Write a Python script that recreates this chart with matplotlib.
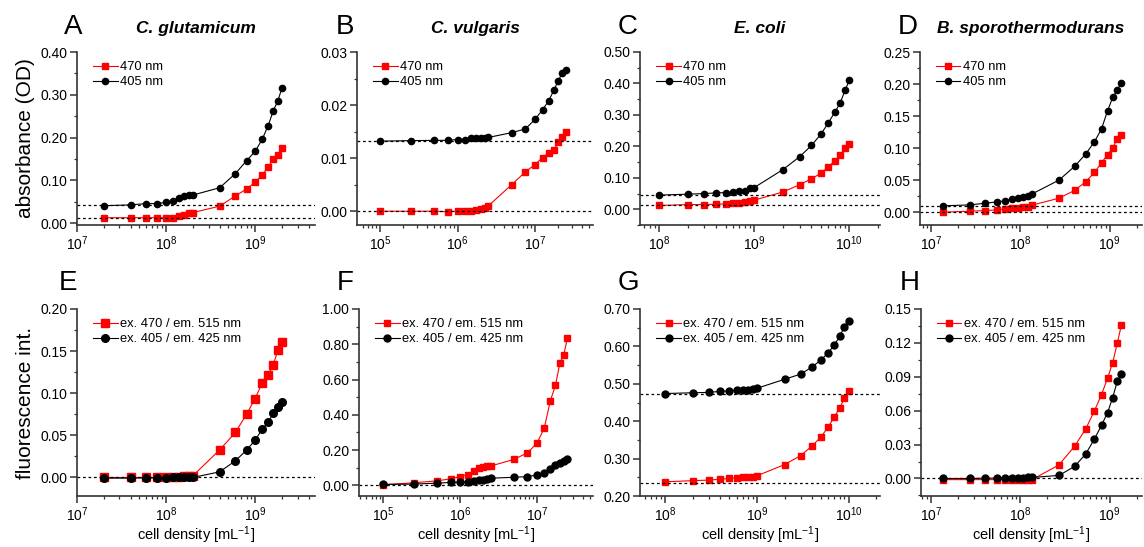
import matplotlib
matplotlib.use('Agg')
import matplotlib.pyplot as plt
from matplotlib.ticker import LogLocator, MultipleLocator, FormatStrFormatter, NullFormatter

plt.rcParams['font.family'] = ['Liberation Sans', 'DejaVu Sans']
plt.rcParams['mathtext.fontset'] = 'custom'
plt.rcParams['mathtext.rm'] = 'Liberation Sans'
plt.rcParams['mathtext.it'] = 'Liberation Sans:italic'
plt.rcParams['mathtext.bf'] = 'Liberation Sans:bold'

# cell densities (mL^-1)
x_glut = [2e7, 4e7, 6e7, 8e7, 1e8, 1.2e8, 1.4e8, 1.6e8, 1.8e8, 2e8,
          4e8, 6e8, 8e8, 1e9, 1.2e9, 1.4e9, 1.6e9, 1.8e9, 2e9]
x_vulg = [1e5, 2.5e5, 5e5, 7.5e5, 1e6, 1.25e6, 1.5e6, 1.75e6, 2e6, 2.25e6, 2.5e6,
          5e6, 7.5e6, 1e7, 1.25e7, 1.5e7, 1.75e7, 2e7, 2.25e7, 2.5e7]
x_coli = [1e8, 2e8, 3e8, 4e8, 5e8, 6e8, 7e8, 8e8, 9e8, 1e9,
          2e9, 3e9, 4e9, 5e9, 6e9, 7e9, 8e9, 9e9, 1e10]
x_spor = [1.35e7, 2.7e7, 4.05e7, 5.4e7, 6.75e7, 8.1e7, 9.45e7, 1.08e8, 1.215e8, 1.35e8,
          2.7e8, 4.05e8, 5.4e8, 6.75e8, 8.1e8, 9.45e8, 1.08e9, 1.215e9, 1.35e9]

# absorbance (OD)
abs_glut_470 = [0.013, 0.013, 0.013, 0.013, 0.013, 0.013, 0.016, 0.019, 0.023, 0.025,
                0.040, 0.064, 0.080, 0.096, 0.113, 0.132, 0.149, 0.160, 0.176]
abs_glut_405 = [0.041, 0.043, 0.046, 0.046, 0.049, 0.052, 0.059, 0.063, 0.066, 0.066,
                0.083, 0.116, 0.146, 0.168, 0.196, 0.228, 0.263, 0.286, 0.316]
abs_vulg_470 = [0.0, 0.0, 0.0, -0.0001, 0.0, 0.0, 0.0001, 0.0003, 0.0004, 0.0006, 0.001,
                0.005, 0.0074, 0.0088, 0.0101, 0.011, 0.0115, 0.013, 0.014, 0.015]
abs_vulg_405 = [0.0132, 0.0133, 0.01335, 0.01335, 0.0135, 0.0135, 0.0137, 0.0137, 0.0137, 0.0137, 0.0139,
                0.0148, 0.0155, 0.0173, 0.0191, 0.0208, 0.0228, 0.0246, 0.0261, 0.0267]
abs_coli_470 = [0.012, 0.015, 0.015, 0.016, 0.017, 0.020, 0.020, 0.022, 0.026, 0.029,
                0.055, 0.078, 0.097, 0.114, 0.134, 0.154, 0.172, 0.194, 0.209]
abs_coli_405 = [0.045, 0.048, 0.050, 0.052, 0.053, 0.055, 0.057, 0.059, 0.067, 0.069,
                0.126, 0.167, 0.203, 0.238, 0.274, 0.308, 0.337, 0.378, 0.410]
abs_spor_470 = [0.0, 0.0015, 0.0026, 0.0036, 0.0047, 0.0062, 0.0067, 0.0078, 0.0088, 0.011,
                0.0218, 0.034, 0.0477, 0.062, 0.077, 0.090, 0.100, 0.115, 0.121]
abs_spor_405 = [0.0099, 0.0114, 0.014, 0.016, 0.0176, 0.0207, 0.0223, 0.0244, 0.026, 0.0285,
                0.050, 0.0716, 0.091, 0.110, 0.130, 0.158, 0.179, 0.191, 0.202]

# fluorescence intensity
fl_glut_470 = [0.0, 0.0, 0.0, 0.0, 0.0, 0.0005, 0.0008, 0.0012, 0.0016, 0.002,
               0.0328, 0.0534, 0.075, 0.0937, 0.112, 0.122, 0.134, 0.151, 0.161]
fl_glut_405 = [-0.0008, -0.0008, -0.0005, -0.0005, -0.0005, 0.0, 0.0, 0.0, 0.0, 0.0,
               0.0067, 0.0198, 0.0324, 0.0443, 0.0573, 0.0656, 0.0763, 0.0834, 0.0901]
fl_vulg_470 = [0.004, 0.015, 0.026, 0.037, 0.05, 0.061, 0.08, 0.097, 0.104, 0.11, 0.11,
               0.147, 0.184, 0.238, 0.325, 0.48, 0.567, 0.695, 0.742, 0.835]
fl_vulg_405 = [0.0056, 0.0074, 0.013, 0.0167, 0.019, 0.022, 0.026, 0.03, 0.033, 0.037, 0.041,
               0.046, 0.05, 0.059, 0.072, 0.095, 0.115, 0.128, 0.138, 0.149]
fl_coli_470 = [0.238, 0.241, 0.2425, 0.245, 0.247, 0.249, 0.25, 0.251, 0.252, 0.254,
               0.284, 0.308, 0.334, 0.358, 0.385, 0.412, 0.435, 0.462, 0.481]
fl_coli_405 = [0.474, 0.476, 0.477, 0.480, 0.481, 0.483, 0.484, 0.484, 0.485, 0.488,
               0.512, 0.526, 0.545, 0.564, 0.583, 0.604, 0.627, 0.653, 0.669]
fl_spor_470 = [-0.001, -0.001, -0.001, -0.001, -0.001, -0.001, -0.001, -0.001, -0.001, -0.001,
               0.012, 0.0286, 0.044, 0.060, 0.0743, 0.0886, 0.1026, 0.1196, 0.1357]
fl_spor_405 = [0.0, 0.0, 0.0003, 0.0003, 0.0003, 0.0003, 0.0003, 0.0006, 0.0009, 0.0009,
               0.0027, 0.0107, 0.0218, 0.035, 0.0471, 0.0582, 0.0716, 0.0859, 0.0925]

organisms = ['C. glutamicum', 'C. vulgaris', 'E. coli', 'B. sporothermodurans']
letters_top = ['A', 'B', 'C', 'D']
letters_bot = ['E', 'F', 'G', 'H']
xlabels = ['cell density [mL$^{\\mathregular{-1}}$]', 'cell desnity [mL$^{\\mathregular{-1}}$]',
           'cell density [mL$^{\\mathregular{-1}}$]', 'cell density [mL$^{\\mathregular{-1}}$]']

W, H = 1144, 547
fig = plt.figure(figsize=(W / 100, H / 100), dpi=100)

# axes boxes in pixels: left, right
cols_top = [(77, 315), (357, 593), (640, 880), (920, 1142)]
cols_bot = [(77, 315), (359, 593), (640, 880), (921, 1142)]
row_top = (52, 225)
row_bot = (309, 496)


def make_ax(lr, tb):
    l, r = lr
    t, b = tb
    return fig.add_axes([l / W, (H - b) / H, (r - l) / W, (b - t) / H])


def style(ax, xlim, ylim, ystep, fmt):
    ax.set_xscale('log')
    ax.set_xlim(*xlim)
    ax.set_ylim(*ylim)
    ax.spines['top'].set_visible(False)
    ax.spines['right'].set_visible(False)
    for s in ['left', 'bottom']:
        ax.spines[s].set_linewidth(1.2)
        ax.spines[s].set_color('#333333')
    ax.xaxis.set_major_locator(LogLocator(base=10, numticks=20))
    ax.xaxis.set_minor_locator(LogLocator(base=10, subs=range(2, 10), numticks=20))
    ax.xaxis.set_minor_formatter(NullFormatter())
    ax.yaxis.set_major_locator(MultipleLocator(ystep))
    ax.yaxis.set_minor_locator(MultipleLocator(ystep / 2))
    ax.yaxis.set_major_formatter(FormatStrFormatter(fmt))
    ax.tick_params(which='major', direction='out', length=5, width=1.1, labelsize=10,
                   color='#333333', pad=2)
    ax.tick_params(which='minor', direction='out', length=2.5, width=0.9, color='#333333')


def draw(ax, x, y_red, y_black, lab_red, lab_black, baselines, ms):
    ax.plot(x, y_red, '-s', color='red', mfc='red', mec='red', ms=ms, lw=0.8, label=lab_red)
    ax.plot(x, y_black, '-o', color='black', ms=ms, lw=0.8, label=lab_black)
    for yb in baselines:
        ax.axhline(yb, color='black', lw=0.9, ls=(0, (2.2, 2.2)))
    ax.legend(loc='upper left', frameon=False, fontsize=9.3, handlelength=1.9,
              handletextpad=0.2, labelspacing=0.25, borderaxespad=0.3,
              bbox_to_anchor=(0.03, 1.0))


x_sets = [x_glut, x_vulg, x_coli, x_spor]

# top row: absorbance
abs_red = [abs_glut_470, abs_vulg_470, abs_coli_470, abs_spor_470]
abs_black = [abs_glut_405, abs_vulg_405, abs_coli_405, abs_spor_405]
top_xlim = [(1e7, 4.7e9), (5.05e4, 5.6e7), (6.3e7, 2.1e10), (7.5e6, 2.3e9)]
top_ylim = [(-0.004, 0.40), (-0.0026, 0.03), (-0.05, 0.50), (-0.02, 0.25)]
top_step = [0.1, 0.01, 0.1, 0.05]
top_base = [(0.043, 0.013), (0.0133, 0.0), (0.045, 0.013), (0.010, 0.0)]

for i in range(4):
    ax = make_ax(cols_top[i], row_top)
    style(ax, top_xlim[i], top_ylim[i], top_step[i], '%.2f')
    draw(ax, x_sets[i], abs_red[i], abs_black[i], '470 nm', '405 nm', top_base[i], 4.5)
    ax.set_title(organisms[i], fontsize=12.5, fontweight='bold', fontstyle='italic', pad=14)
    if i == 0:
        ax.set_ylabel('absorbance (OD)', fontsize=15, labelpad=4)

# bottom row: fluorescence
fl_red = [fl_glut_470, fl_vulg_470, fl_coli_470, fl_spor_470]
fl_black = [fl_glut_405, fl_vulg_405, fl_coli_405, fl_spor_405]
bot_xlim = [(1e7, 4.7e9), (4.8e4, 5.4e7), (5.3e7, 2.2e10), (7.7e6, 2.3e9)]
bot_ylim = [(-0.022, 0.20), (-0.06, 1.0), (0.20, 0.70), (-0.0155, 0.15)]
bot_step = [0.05, 0.2, 0.1, 0.03]
bot_base = [(0.0,), (0.0,), (0.474, 0.236), (0.0,)]
bot_ms = [5.5, 5, 5, 5]

for i in range(4):
    ax = make_ax(cols_bot[i], row_bot)
    style(ax, bot_xlim[i], bot_ylim[i], bot_step[i], '%.2f')
    draw(ax, x_sets[i], fl_red[i], fl_black[i], 'ex. 470 / em. 515 nm',
         'ex. 405 / em. 425 nm', bot_base[i], bot_ms[i])
    ax.set_xlabel(xlabels[i], fontsize=10.5, labelpad=0)
    if i == 0:
        ax.set_ylabel('fluorescence int.', fontsize=15, labelpad=4)

# panel letters
for letter, xp in zip(letters_top, [73, 345, 628, 908]):
    fig.text(xp / W, (H - 27) / H, letter, fontsize=20, ha='center', va='center')
for letter, xp in zip(letters_bot, [68, 345, 628, 910]):
    fig.text(xp / W, (H - 283) / H, letter, fontsize=20, ha='center', va='center')

fig.savefig('out.png', dpi=100)
